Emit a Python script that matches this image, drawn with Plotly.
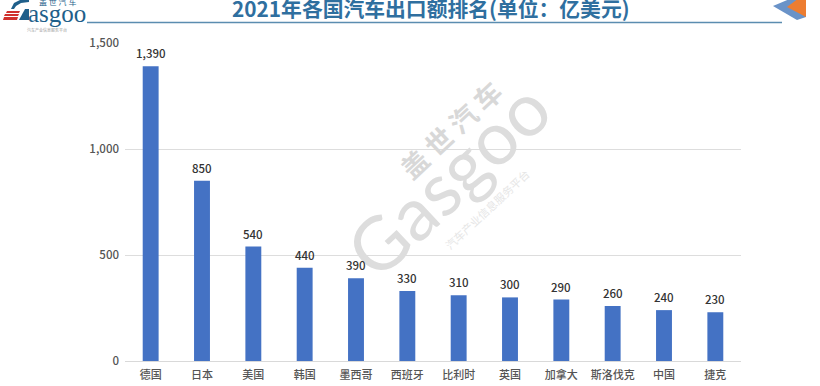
import plotly.graph_objects as go

categories = ["德国", "日本", "美国", "韩国", "墨西哥", "西班牙", "比利时", "英国", "加拿大", "斯洛伐克", "中国", "捷克"]
values = [1390, 850, 540, 440, 390, 330, 310, 300, 290, 260, 240, 230]
y_ticks = [0, 500, 1000, 1500]
title_text = "2021年各国汽车出口额排名(单位：亿美元)"

W, H = 820, 386
L, R, T, B = 125, 741, 43, 361
FONT = "Noto Sans CJK SC"
LOGO = "#1f5f8a"
RED = "#d0312d"

def px(x):
    return (x - L) / (R - L)

def py(y):
    return (B - y) / (B - T)

def poly(points):
    return "M" + " L".join(f"{px(a):.4f},{py(b):.4f}" for a, b in points) + " Z"

def filled(points, color):
    return dict(type="path", xref="paper", yref="paper", line_width=0, fillcolor=color, path=poly(points))

fig = go.Figure(go.Bar(
    x=categories, y=values, width=0.31,
    marker=dict(color="#4472c4", line_width=0),
))

shapes = [
    dict(type="line", xref="paper", yref="paper", x0=px(87), x1=px(782), y0=py(22.5), y1=py(22.5),
         line=dict(color="#5b8db0", width=1.5)),
    filled([(773, 6), (792, -2), (806, -2), (806, 17), (797, 20)], "#6a93c8"),
    filled([(787, 7), (799, -2), (806, -2), (806, 17)], "#ed7d31"),
    # logo: stripes and the sweep of the G
    filled([(6, 13), (7, 11), (20, 11), (19, 13)], RED),
    filled([(4, 16), (5, 14), (19, 14), (18, 16)], RED),
    filled([(3, 20), (4, 17), (18, 17), (17, 20)], RED),
    filled([(19, 20), (25, 9), (29, 9), (29, 20)], LOGO),
    filled([(11, 9), (14, 3), (20, 0), (29, 0), (29, 2), (21, 3), (16, 6), (14, 9)], LOGO),
]

annotations = [
    dict(text="Gasgoo", xref="paper", yref="paper", x=px(447), y=py(178), showarrow=False, textangle=-43,
         font=dict(family="Lato", size=74, color="#dddddd"), xanchor="center", yanchor="middle"),
    dict(text="盖 世 汽 车", xref="paper", yref="paper", x=px(450), y=py(129), showarrow=False, textangle=-43,
         font=dict(family=FONT, size=27, weight=700, color="#d8d8d8"), xanchor="center", yanchor="middle"),
    dict(text="汽车产业信息服务平台", xref="paper", yref="paper", x=px(487), y=py(209), showarrow=False, textangle=-43,
         font=dict(family=FONT, size=11, color="#e6e6e6"), xanchor="center", yanchor="middle"),
    dict(text=f"<b>{title_text}</b>", xref="paper", yref="paper", x=px(431), y=py(8), showarrow=False,
         font=dict(family=FONT, size=20.8, color="#2f6f9f"), xanchor="center", yanchor="middle"),
    dict(text="asgoo", xref="paper", yref="paper", x=px(57), y=py(13), showarrow=False,
         font=dict(family="Liberation Serif", size=25, color=LOGO), xanchor="center", yanchor="middle"),
    dict(text="盖 世 汽 车", xref="paper", yref="paper", x=px(57), y=py(1), showarrow=False,
         font=dict(family=FONT, size=8, color=LOGO), xanchor="center", yanchor="middle"),
    dict(text="汽车产业信息服务平台", xref="paper", yref="paper", x=px(47), y=py(30), showarrow=False,
         font=dict(family=FONT, size=4, color="#999999"), xanchor="center", yanchor="middle"),
]
for c, v in zip(categories, values):
    annotations.append(dict(x=c, y=v, xref="x", yref="y", text=f"{v:,}", showarrow=False,
                            yanchor="bottom", yshift=3,
                            font=dict(family=FONT, size=11.5, weight=500, color="#333333")))

fig.update_layout(
    width=W, height=H, margin=dict(l=L, r=W - R, t=T, b=H - B, pad=0),
    paper_bgcolor="white", plot_bgcolor="rgba(0,0,0,0)", showlegend=False,
    shapes=shapes, annotations=annotations, font=dict(family=FONT, color="#555555"),
    xaxis=dict(automargin=False, showline=True, linecolor="#d9d9d9", ticks="", ticklabelstandoff=4,
               tickfont=dict(family=FONT, size=11, weight=500, color="#555555")),
    yaxis=dict(automargin=False, range=[0, 1500], tickvals=y_ticks, tickformat=",", gridcolor="#dddddd", gridwidth=1,
               zeroline=False, ticks="", ticklabelstandoff=5,
               tickfont=dict(family=FONT, size=11.5, weight=500, color="#555555")),
)
fig.write_html("out.html", config={"displayModeBar": False},
               post_script="document.body.style.margin='0';")
